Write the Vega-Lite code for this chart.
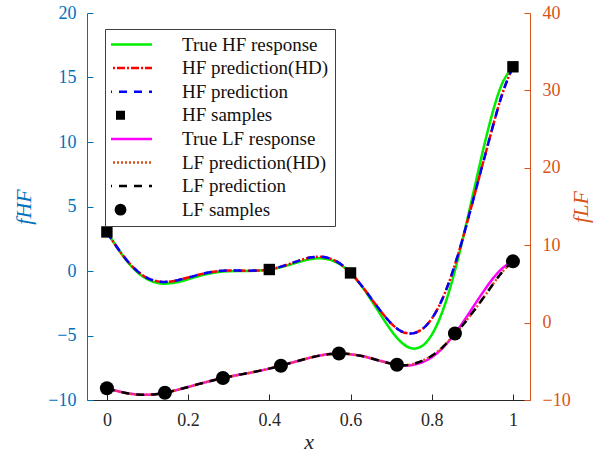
{
  "$schema": "https://vega.github.io/schema/vega-lite/v6.json",
  "width": 443,
  "height": 387,
  "autosize": {"type": "none"},
  "padding": {"left": 87, "top": 13, "right": 74, "bottom": 63},
  "background": "white",
  "datasets": {
    "hf_true": [
      {"x":0,"y":3.027,"s":"True HF response"},{"x":0.025,"y":1.813,"s":"True HF response"},{"x":0.05,"y":0.738,"s":"True HF response"},{"x":0.075,"y":-0.100,"s":"True HF response"},{"x":0.1,"y":-0.657,"s":"True HF response"},{"x":0.125,"y":-0.935,"s":"True HF response"},{"x":0.15,"y":-0.978,"s":"True HF response"},{"x":0.175,"y":-0.854,"s":"True HF response"},{"x":0.2,"y":-0.640,"s":"True HF response"},{"x":0.225,"y":-0.407,"s":"True HF response"},{"x":0.25,"y":-0.210,"s":"True HF response"},{"x":0.275,"y":-0.079,"s":"True HF response"},{"x":0.3,"y":-0.016,"s":"True HF response"},{"x":0.325,"y":0.000,"s":"True HF response"},{"x":0.35,"y":0.002,"s":"True HF response"},{"x":0.375,"y":0.030,"s":"True HF response"},{"x":0.4,"y":0.115,"s":"True HF response"},{"x":0.425,"y":0.270,"s":"True HF response"},{"x":0.45,"y":0.483,"s":"True HF response"},{"x":0.475,"y":0.717,"s":"True HF response"},{"x":0.5,"y":0.909,"s":"True HF response"},{"x":0.525,"y":0.986,"s":"True HF response"},{"x":0.55,"y":0.871,"s":"True HF response"},{"x":0.575,"y":0.503,"s":"True HF response"},{"x":0.6,"y":-0.149,"s":"True HF response"},{"x":0.625,"y":-1.074,"s":"True HF response"},{"x":0.65,"y":-2.209,"s":"True HF response"},{"x":0.675,"y":-3.439,"s":"True HF response"},{"x":0.7,"y":-4.606,"s":"True HF response"},{"x":0.725,"y":-5.522,"s":"True HF response"},{"x":0.75,"y":-5.993,"s":"True HF response"},{"x":0.775,"y":-5.845,"s":"True HF response"},{"x":0.8,"y":-4.949,"s":"True HF response"},{"x":0.825,"y":-3.254,"s":"True HF response"},{"x":0.85,"y":-0.799,"s":"True HF response"},{"x":0.875,"y":2.272,"s":"True HF response"},{"x":0.9,"y":5.715,"s":"True HF response"},{"x":0.925,"y":9.183,"s":"True HF response"},{"x":0.95,"y":12.303,"s":"True HF response"},{"x":0.975,"y":14.647,"s":"True HF response"},{"x":1,"y":15.830,"s":"True HF response"}
    ],
    "hf_pred_hd": [
      {"x":0,"y":3.027,"s":"HF prediction(HD)"},{"x":0.025,"y":1.843,"s":"HF prediction(HD)"},{"x":0.05,"y":0.798,"s":"HF prediction(HD)"},{"x":0.075,"y":-0.010,"s":"HF prediction(HD)"},{"x":0.1,"y":-0.547,"s":"HF prediction(HD)"},{"x":0.125,"y":-0.805,"s":"HF prediction(HD)"},{"x":0.15,"y":-0.838,"s":"HF prediction(HD)"},{"x":0.175,"y":-0.714,"s":"HF prediction(HD)"},{"x":0.2,"y":-0.510,"s":"HF prediction(HD)"},{"x":0.225,"y":-0.297,"s":"HF prediction(HD)"},{"x":0.25,"y":-0.120,"s":"HF prediction(HD)"},{"x":0.275,"y":-0.009,"s":"HF prediction(HD)"},{"x":0.3,"y":0.034,"s":"HF prediction(HD)"},{"x":0.325,"y":0.030,"s":"HF prediction(HD)"},{"x":0.35,"y":0.022,"s":"HF prediction(HD)"},{"x":0.375,"y":0.040,"s":"HF prediction(HD)"},{"x":0.4,"y":0.115,"s":"HF prediction(HD)"},{"x":0.425,"y":0.300,"s":"HF prediction(HD)"},{"x":0.45,"y":0.553,"s":"HF prediction(HD)"},{"x":0.475,"y":0.827,"s":"HF prediction(HD)"},{"x":0.5,"y":1.039,"s":"HF prediction(HD)"},{"x":0.525,"y":1.106,"s":"HF prediction(HD)"},{"x":0.55,"y":0.961,"s":"HF prediction(HD)"},{"x":0.575,"y":0.553,"s":"HF prediction(HD)"},{"x":0.6,"y":-0.149,"s":"HF prediction(HD)"},{"x":0.625,"y":-1.044,"s":"HF prediction(HD)"},{"x":0.65,"y":-2.089,"s":"HF prediction(HD)"},{"x":0.675,"y":-3.139,"s":"HF prediction(HD)"},{"x":0.7,"y":-4.056,"s":"HF prediction(HD)"},{"x":0.725,"y":-4.672,"s":"HF prediction(HD)"},{"x":0.75,"y":-4.843,"s":"HF prediction(HD)"},{"x":0.775,"y":-4.545,"s":"HF prediction(HD)"},{"x":0.8,"y":-3.699,"s":"HF prediction(HD)"},{"x":0.825,"y":-2.254,"s":"HF prediction(HD)"},{"x":0.85,"y":-0.199,"s":"HF prediction(HD)"},{"x":0.875,"y":2.372,"s":"HF prediction(HD)"},{"x":0.9,"y":5.265,"s":"HF prediction(HD)"},{"x":0.925,"y":8.233,"s":"HF prediction(HD)"},{"x":0.95,"y":11.153,"s":"HF prediction(HD)"},{"x":0.975,"y":13.847,"s":"HF prediction(HD)"},{"x":1,"y":15.830,"s":"HF prediction(HD)"}
    ],
    "hf_pred": [
      {"x":0,"y":3.027,"s":"HF prediction"},{"x":0.025,"y":1.843,"s":"HF prediction"},{"x":0.05,"y":0.798,"s":"HF prediction"},{"x":0.075,"y":-0.010,"s":"HF prediction"},{"x":0.1,"y":-0.547,"s":"HF prediction"},{"x":0.125,"y":-0.805,"s":"HF prediction"},{"x":0.15,"y":-0.838,"s":"HF prediction"},{"x":0.175,"y":-0.714,"s":"HF prediction"},{"x":0.2,"y":-0.510,"s":"HF prediction"},{"x":0.225,"y":-0.297,"s":"HF prediction"},{"x":0.25,"y":-0.120,"s":"HF prediction"},{"x":0.275,"y":-0.009,"s":"HF prediction"},{"x":0.3,"y":0.034,"s":"HF prediction"},{"x":0.325,"y":0.030,"s":"HF prediction"},{"x":0.35,"y":0.022,"s":"HF prediction"},{"x":0.375,"y":0.040,"s":"HF prediction"},{"x":0.4,"y":0.115,"s":"HF prediction"},{"x":0.425,"y":0.300,"s":"HF prediction"},{"x":0.45,"y":0.553,"s":"HF prediction"},{"x":0.475,"y":0.827,"s":"HF prediction"},{"x":0.5,"y":1.039,"s":"HF prediction"},{"x":0.525,"y":1.106,"s":"HF prediction"},{"x":0.55,"y":0.961,"s":"HF prediction"},{"x":0.575,"y":0.553,"s":"HF prediction"},{"x":0.6,"y":-0.149,"s":"HF prediction"},{"x":0.625,"y":-1.044,"s":"HF prediction"},{"x":0.65,"y":-2.089,"s":"HF prediction"},{"x":0.675,"y":-3.139,"s":"HF prediction"},{"x":0.7,"y":-4.056,"s":"HF prediction"},{"x":0.725,"y":-4.672,"s":"HF prediction"},{"x":0.75,"y":-4.843,"s":"HF prediction"},{"x":0.775,"y":-4.545,"s":"HF prediction"},{"x":0.8,"y":-3.699,"s":"HF prediction"},{"x":0.825,"y":-2.254,"s":"HF prediction"},{"x":0.85,"y":-0.199,"s":"HF prediction"},{"x":0.875,"y":2.372,"s":"HF prediction"},{"x":0.9,"y":5.265,"s":"HF prediction"},{"x":0.925,"y":8.233,"s":"HF prediction"},{"x":0.95,"y":11.153,"s":"HF prediction"},{"x":0.975,"y":13.847,"s":"HF prediction"},{"x":1,"y":15.830,"s":"HF prediction"}
    ],
    "hf_samples": [
      {"x":0,"y":3.027,"s":"HF samples"},{"x":0.4,"y":0.115,"s":"HF samples"},{"x":0.6,"y":-0.149,"s":"HF samples"},{"x":1,"y":15.830,"s":"HF samples"}
    ],
    "lf_true": [
      {"x":0,"y":-8.487,"s":"True LF response"},{"x":0.025,"y":-8.844,"s":"True LF response"},{"x":0.05,"y":-9.131,"s":"True LF response"},{"x":0.075,"y":-9.300,"s":"True LF response"},{"x":0.1,"y":-9.328,"s":"True LF response"},{"x":0.125,"y":-9.218,"s":"True LF response"},{"x":0.15,"y":-8.989,"s":"True LF response"},{"x":0.175,"y":-8.677,"s":"True LF response"},{"x":0.2,"y":-8.320,"s":"True LF response"},{"x":0.225,"y":-7.954,"s":"True LF response"},{"x":0.25,"y":-7.605,"s":"True LF response"},{"x":0.275,"y":-7.289,"s":"True LF response"},{"x":0.3,"y":-7.008,"s":"True LF response"},{"x":0.325,"y":-6.750,"s":"True LF response"},{"x":0.35,"y":-6.499,"s":"True LF response"},{"x":0.375,"y":-6.235,"s":"True LF response"},{"x":0.4,"y":-5.943,"s":"True LF response"},{"x":0.425,"y":-5.615,"s":"True LF response"},{"x":0.45,"y":-5.259,"s":"True LF response"},{"x":0.475,"y":-4.892,"s":"True LF response"},{"x":0.5,"y":-4.545,"s":"True LF response"},{"x":0.525,"y":-4.257,"s":"True LF response"},{"x":0.55,"y":-4.064,"s":"True LF response"},{"x":0.575,"y":-3.999,"s":"True LF response"},{"x":0.6,"y":-4.075,"s":"True LF response"},{"x":0.625,"y":-4.287,"s":"True LF response"},{"x":0.65,"y":-4.605,"s":"True LF response"},{"x":0.675,"y":-4.969,"s":"True LF response"},{"x":0.7,"y":-5.303,"s":"True LF response"},{"x":0.725,"y":-5.511,"s":"True LF response"},{"x":0.75,"y":-5.497,"s":"True LF response"},{"x":0.775,"y":-5.172,"s":"True LF response"},{"x":0.8,"y":-4.475,"s":"True LF response"},{"x":0.825,"y":-3.377,"s":"True LF response"},{"x":0.85,"y":-1.899,"s":"True LF response"},{"x":0.875,"y":-0.114,"s":"True LF response"},{"x":0.9,"y":1.858,"s":"True LF response"},{"x":0.925,"y":3.841,"s":"True LF response"},{"x":0.95,"y":5.652,"s":"True LF response"},{"x":0.975,"y":7.074,"s":"True LF response"},{"x":1,"y":7.915,"s":"True LF response"}
    ],
    "lf_pred_hd": [
      {"x":0,"y":-8.487,"s":"LF prediction(HD)"},{"x":0.025,"y":-8.844,"s":"LF prediction(HD)"},{"x":0.05,"y":-9.131,"s":"LF prediction(HD)"},{"x":0.075,"y":-9.300,"s":"LF prediction(HD)"},{"x":0.1,"y":-9.328,"s":"LF prediction(HD)"},{"x":0.125,"y":-9.218,"s":"LF prediction(HD)"},{"x":0.15,"y":-8.989,"s":"LF prediction(HD)"},{"x":0.175,"y":-8.677,"s":"LF prediction(HD)"},{"x":0.2,"y":-8.320,"s":"LF prediction(HD)"},{"x":0.225,"y":-7.954,"s":"LF prediction(HD)"},{"x":0.25,"y":-7.605,"s":"LF prediction(HD)"},{"x":0.275,"y":-7.289,"s":"LF prediction(HD)"},{"x":0.3,"y":-7.008,"s":"LF prediction(HD)"},{"x":0.325,"y":-6.750,"s":"LF prediction(HD)"},{"x":0.35,"y":-6.499,"s":"LF prediction(HD)"},{"x":0.375,"y":-6.235,"s":"LF prediction(HD)"},{"x":0.4,"y":-5.943,"s":"LF prediction(HD)"},{"x":0.425,"y":-5.615,"s":"LF prediction(HD)"},{"x":0.45,"y":-5.259,"s":"LF prediction(HD)"},{"x":0.475,"y":-4.892,"s":"LF prediction(HD)"},{"x":0.5,"y":-4.545,"s":"LF prediction(HD)"},{"x":0.525,"y":-4.257,"s":"LF prediction(HD)"},{"x":0.55,"y":-4.064,"s":"LF prediction(HD)"},{"x":0.575,"y":-3.999,"s":"LF prediction(HD)"},{"x":0.6,"y":-4.075,"s":"LF prediction(HD)"},{"x":0.625,"y":-4.287,"s":"LF prediction(HD)"},{"x":0.65,"y":-4.605,"s":"LF prediction(HD)"},{"x":0.675,"y":-4.969,"s":"LF prediction(HD)"},{"x":0.7,"y":-5.303,"s":"LF prediction(HD)"},{"x":0.725,"y":-5.511,"s":"LF prediction(HD)"},{"x":0.75,"y":-5.40,"s":"LF prediction(HD)"},{"x":0.775,"y":-4.97,"s":"LF prediction(HD)"},{"x":0.8,"y":-4.28,"s":"LF prediction(HD)"},{"x":0.825,"y":-3.28,"s":"LF prediction(HD)"},{"x":0.85,"y":-1.88,"s":"LF prediction(HD)"},{"x":0.875,"y":-0.41,"s":"LF prediction(HD)"},{"x":0.9,"y":1.26,"s":"LF prediction(HD)"},{"x":0.925,"y":3.04,"s":"LF prediction(HD)"},{"x":0.95,"y":4.90,"s":"LF prediction(HD)"},{"x":0.975,"y":6.62,"s":"LF prediction(HD)"},{"x":1,"y":7.915,"s":"LF prediction(HD)"}
    ],
    "lf_pred": [
      {"x":0,"y":-8.487,"s":"LF prediction"},{"x":0.025,"y":-8.844,"s":"LF prediction"},{"x":0.05,"y":-9.131,"s":"LF prediction"},{"x":0.075,"y":-9.300,"s":"LF prediction"},{"x":0.1,"y":-9.328,"s":"LF prediction"},{"x":0.125,"y":-9.218,"s":"LF prediction"},{"x":0.15,"y":-8.989,"s":"LF prediction"},{"x":0.175,"y":-8.677,"s":"LF prediction"},{"x":0.2,"y":-8.320,"s":"LF prediction"},{"x":0.225,"y":-7.954,"s":"LF prediction"},{"x":0.25,"y":-7.605,"s":"LF prediction"},{"x":0.275,"y":-7.289,"s":"LF prediction"},{"x":0.3,"y":-7.008,"s":"LF prediction"},{"x":0.325,"y":-6.750,"s":"LF prediction"},{"x":0.35,"y":-6.499,"s":"LF prediction"},{"x":0.375,"y":-6.235,"s":"LF prediction"},{"x":0.4,"y":-5.943,"s":"LF prediction"},{"x":0.425,"y":-5.615,"s":"LF prediction"},{"x":0.45,"y":-5.259,"s":"LF prediction"},{"x":0.475,"y":-4.892,"s":"LF prediction"},{"x":0.5,"y":-4.545,"s":"LF prediction"},{"x":0.525,"y":-4.257,"s":"LF prediction"},{"x":0.55,"y":-4.064,"s":"LF prediction"},{"x":0.575,"y":-3.999,"s":"LF prediction"},{"x":0.6,"y":-4.075,"s":"LF prediction"},{"x":0.625,"y":-4.287,"s":"LF prediction"},{"x":0.65,"y":-4.605,"s":"LF prediction"},{"x":0.675,"y":-4.969,"s":"LF prediction"},{"x":0.7,"y":-5.303,"s":"LF prediction"},{"x":0.725,"y":-5.511,"s":"LF prediction"},{"x":0.75,"y":-5.40,"s":"LF prediction"},{"x":0.775,"y":-4.97,"s":"LF prediction"},{"x":0.8,"y":-4.28,"s":"LF prediction"},{"x":0.825,"y":-3.28,"s":"LF prediction"},{"x":0.85,"y":-1.88,"s":"LF prediction"},{"x":0.875,"y":-0.41,"s":"LF prediction"},{"x":0.9,"y":1.26,"s":"LF prediction"},{"x":0.925,"y":3.04,"s":"LF prediction"},{"x":0.95,"y":4.90,"s":"LF prediction"},{"x":0.975,"y":6.62,"s":"LF prediction"},{"x":1,"y":7.915,"s":"LF prediction"}
    ],
    "lf_samples": [
      {"x":0,"y":-8.487,"s":"LF samples"},{"x":0.142857,"y":-9.064,"s":"LF samples"},{"x":0.285714,"y":-7.165,"s":"LF samples"},{"x":0.428571,"y":-5.566,"s":"LF samples"},{"x":0.571429,"y":-3.999,"s":"LF samples"},{"x":0.714286,"y":-5.443,"s":"LF samples"},{"x":0.857143,"y":-1.416,"s":"LF samples"},{"x":1,"y":7.915,"s":"LF samples"}
    ]
  },
  "encoding": {
    "x": {
      "field": "x", "type": "quantitative",
      "scale": {"domain": [-0.049, 1.042], "nice": false, "zero": false},
      "axis": {
        "values": [0, 0.2, 0.4, 0.6, 0.8, 1], "format": "~g",
        "labelFont": "Times New Roman, Liberation Serif, serif", "labelFontSize": 18,
        "title": "x", "titleFont": "Times New Roman, Liberation Serif, serif", "titleFontStyle": "italic", "titleFontWeight": "normal", "titleFontSize": 22,
        "titleColor": "#262626", "labelColor": "#262626", "domainColor": "#262626", "tickColor": "#262626",
        "tickSize": -6, "labelPadding": 17, "titlePadding": 2
      }
    },
    "color": {
      "field": "s", "type": "nominal",
      "scale": {
        "domain": ["True HF response", "HF prediction(HD)", "HF prediction", "HF samples", "True LF response", "LF prediction(HD)", "LF prediction", "LF samples"],
        "range": ["#00EE00", "#FF0000", "#0000FF", "#000000", "#FF00FF", "#D95319", "#000000", "#000000"]
      },
      "legend": {
        "title": null, "orient": "none", "legendX": 18, "legendY": 16,
        "strokeColor": "#404040", "fillColor": "white", "padding": 6,
        "labelFont": "Times New Roman, Liberation Serif, serif", "labelFontSize": 19, "labelColor": "#111111",
        "symbolSize": 3969, "symbolStrokeWidth": 2.5, "clipHeight": 19, "rowPadding": 3.6,
        "labelOffset": 52, "symbolOffset": 0,
        "encode": {
          "symbols": {
            "update": {
              "shape": {"signal": "datum.value === 'HF samples' ? 'square' : (datum.value === 'LF samples' ? 'circle' : 'stroke')"},
              "size": {"signal": "datum.value === 'HF samples' ? 81 : (datum.value === 'LF samples' ? 140 : 3969)"},
              "fill": {"signal": "(datum.value === 'HF samples' || datum.value === 'LF samples') ? '#000000' : 'transparent'"},
              "strokeDash": {"signal": "datum.value === 'HF prediction(HD)' ? [8,2,2,2] : ((datum.value === 'HF prediction' || datum.value === 'LF prediction') ? [8,7] : (datum.value === 'LF prediction(HD)' ? [2,2] : [1,0]))"},
              "strokeWidth": {"signal": "(datum.value === 'HF samples' || datum.value === 'LF samples') ? 0 : 2.5"},
              "opacity": {"value": 1}
            }
          }
        }
      }
    }
  },
  "layer": [
    {
      "encoding": {
        "y": {
          "field": "y", "type": "quantitative",
          "scale": {"domain": [-10, 20], "nice": false, "zero": false},
          "axis": {
            "orient": "left", "values": [-10, -5, 0, 5, 10, 15, 20],
            "labelFont": "Times New Roman, Liberation Serif, serif", "labelFontSize": 18,
            "title": "fHF", "titleFont": "Times New Roman, Liberation Serif, serif", "titleFontStyle": "italic", "titleFontWeight": "normal", "titleFontSize": 22,
            "titleColor": "#0072BD", "labelColor": "#0072BD", "domainColor": "#0072BD", "tickColor": "#0072BD",
            "tickSize": -6, "labelPadding": 17, "titlePadding": 12
          }
        }
      },
      "layer": [
        {"data": {"name": "hf_true"}, "mark": {"type": "line", "strokeWidth": 2.5, "interpolate": "natural"}},
        {"data": {"name": "hf_pred_hd"}, "mark": {"type": "line", "strokeWidth": 2.5, "interpolate": "natural", "strokeDash": [8, 2, 2, 2]}},
        {"data": {"name": "hf_pred"}, "mark": {"type": "line", "strokeWidth": 2.5, "interpolate": "natural", "strokeDash": [8, 7]}},
        {"data": {"name": "hf_samples"}, "mark": {"type": "point", "shape": "square", "filled": true, "size": 130, "opacity": 1}}
      ]
    },
    {
      "encoding": {
        "y": {
          "field": "y", "type": "quantitative",
          "scale": {"domain": [-10, 40], "nice": false, "zero": false},
          "axis": {
            "orient": "right", "values": [-10, 0, 10, 20, 30, 40],
            "labelFont": "Times New Roman, Liberation Serif, serif", "labelFontSize": 18,
            "title": "fLF", "titleFont": "Times New Roman, Liberation Serif, serif", "titleFontStyle": "italic", "titleFontWeight": "normal", "titleFontSize": 22, "titleAngle": 270,
            "titleColor": "#D95319", "labelColor": "#D95319", "domainColor": "#D95319", "tickColor": "#D95319",
            "tickSize": -6, "labelPadding": 18, "titlePadding": 22
          }
        }
      },
      "layer": [
        {"data": {"name": "lf_true"}, "mark": {"type": "line", "strokeWidth": 2.5, "interpolate": "natural"}},
        {"data": {"name": "lf_pred_hd"}, "mark": {"type": "line", "strokeWidth": 2.5, "interpolate": "natural", "strokeDash": [2, 2]}},
        {"data": {"name": "lf_pred"}, "mark": {"type": "line", "strokeWidth": 2.5, "interpolate": "natural", "strokeDash": [8, 7]}},
        {"data": {"name": "lf_samples"}, "mark": {"type": "point", "shape": "circle", "filled": true, "size": 196, "opacity": 1}}
      ]
    }
  ],
  "resolve": {"scale": {"y": "independent"}},
  "config": {
    "view": {"stroke": null},
    "font": "Times New Roman, Liberation Serif, serif",
    "axis": {"grid": false, "labelFont": "Times New Roman, Liberation Serif, serif", "labelFontSize": 18, "titleFont": "Times New Roman, Liberation Serif, serif", "domainWidth": 1, "tickWidth": 1}
  }
}
